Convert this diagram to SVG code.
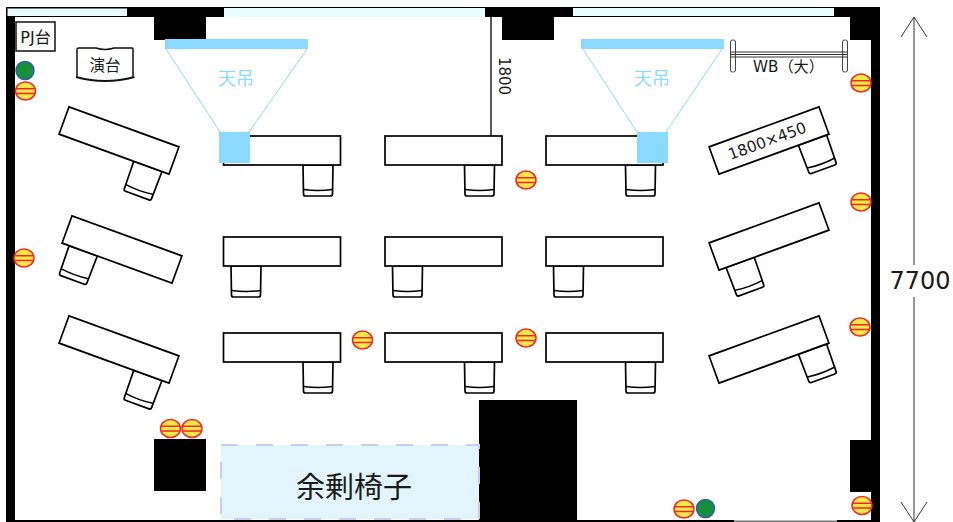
<svg xmlns="http://www.w3.org/2000/svg" width="953" height="522" viewBox="0 0 953 522">
<style>
.wall{fill:#000}
.win{fill:#e8fdfd;stroke:none}
.desk{fill:#fff;stroke:#000;stroke-width:1.7}
.chair{fill:#fff;stroke:#000;stroke-width:1.7;stroke-linejoin:round}
.t{font-family:"DejaVu Sans","Noto Sans CJK JP",sans-serif;fill:#1a1a1a;text-anchor:middle}
.pj{fill:#8cd9ff}
.beam{stroke:#8cd9ff;stroke-width:1;fill:none}
.tp{font-family:"DejaVu Sans","Noto Sans CJK JP",sans-serif;fill:#8cd9ff;text-anchor:middle;font-size:18px}
.o{fill:#f4e84a;stroke:#ee2a24;stroke-width:1.5}
.ol{stroke:#ee2a24;stroke-width:1.5;fill:none}
.g{fill:#169038;stroke:#2f5fa8;stroke-width:1.5}
</style>
<defs>
<g id="chair"><path class="chair" d="M-15,0 L-14.5,29 Q-14.5,31 -12.5,31 L12.5,31 Q14.5,31 14.5,29 L15,0 Z"/><path d="M-14.3,24.5 Q0,26.5 14.3,24.5" fill="none" stroke="#000" stroke-width="1.5"/></g>
<g id="dr"><use href="#chair" x="36" y="14.5"/><rect class="desk" x="-58.5" y="-14.5" width="117" height="29"/></g>
<g id="dr2"><use href="#chair" x="41" y="14.5"/><rect class="desk" x="-58.5" y="-14.5" width="117" height="29"/></g>
<g id="dl"><use href="#chair" x="-36" y="14.5"/><rect class="desk" x="-58.5" y="-14.5" width="117" height="29"/></g>
<g id="out"><ellipse class="o" cx="0" cy="0" rx="10" ry="9"/><path class="ol" d="M-9.5,-2.2H9.5M-9.5,2.6H9.5"/></g>
</defs>
<rect width="953" height="522" fill="#fff"/>
<g id="walls">
<rect class="wall" x="6" y="7" width="874" height="10"/>
<rect class="wall" x="6" y="7" width="9" height="515"/>
<rect class="wall" x="871" y="7" width="9" height="515"/>
<rect class="wall" x="6" y="520" width="728" height="2"/>
<rect class="wall" x="837" y="520" width="43" height="2"/>
<rect x="734" y="520.500" width="103" height="1.500" fill="#777"/>
<rect class="win" x="7.500" y="8.500" width="119.500" height="7.500"/>
<rect class="win" x="224" y="8" width="261" height="9"/>
<rect class="win" x="573" y="8" width="261" height="8"/>
<rect class="wall" x="154" y="17" width="52" height="23"/>
<rect class="wall" x="502" y="17" width="52" height="23"/>
<rect class="wall" x="850" y="17" width="21" height="23"/>
<rect class="wall" x="154" y="439" width="52" height="52"/>
<rect class="wall" x="479" y="400" width="98" height="122"/>
<rect class="wall" x="850" y="440" width="21" height="52"/>
</g>
<g id="partition"><line x1="491" y1="17" x2="491" y2="136" stroke="#222" stroke-width="1.500"/><text class="t" font-size="15" transform="translate(499,76) rotate(90)">1800</text></g>
<g id="pj-stand"><rect x="16" y="22" width="39" height="29" fill="#fff" stroke="#111" stroke-width="1.500"/><text class="t" font-size="16" x="35.500" y="43">PJ台</text></g>
<g id="lectern"><path d="M77,78 V49 Q77,48 79,48 L96,48 Q105,51 114,48 L132,48 Q133,48 133,49 V78" fill="#fff" stroke="#111" stroke-width="1.500"/><path d="M76,77 Q105,85 134.500,77" fill="none" stroke="#111" stroke-width="2"/><text class="t" font-size="15.500" x="105" y="71">演台</text></g>
<g id="desks">
<use id="desk-1" href="#dr" transform="translate(119,140.500) rotate(20)"/>
<use id="desk-2" href="#dl" transform="translate(122,249.500) rotate(20)"/>
<use id="desk-3" href="#dr" transform="translate(119,349.500) rotate(20)"/>
<use id="desk-4" href="#dr" x="282" y="150.500"/>
<use id="desk-5" href="#dr" x="443.500" y="150.500"/>
<use id="desk-6" href="#dr" x="604.500" y="150.500"/>
<use id="desk-7" href="#dl" x="282" y="251.500"/>
<use id="desk-8" href="#dl" x="443.500" y="251.500"/>
<use id="desk-9" href="#dl" x="604.500" y="251.500"/>
<use id="desk-10" href="#dr" x="282" y="347.500"/>
<use id="desk-11" href="#dr" x="443.500" y="347.500"/>
<use id="desk-12" href="#dr" x="604.500" y="347.500"/>
<use id="desk-13" href="#dr2" transform="translate(769,140.500) rotate(-20)"/>
<use id="desk-14" href="#dl" transform="translate(769,236.500) rotate(-20)"/>
<use id="desk-15" href="#dr2" transform="translate(769,349.500) rotate(-20)"/>
<text class="t" font-size="15.500" transform="translate(769,146) rotate(-20)">1800×450</text>
</g>
<g id="projector-1"><path class="beam" d="M166,49 L220,132M307,49 L249,132"/><rect class="pj" x="165" y="39" width="143" height="10"/><rect class="pj" x="219" y="132" width="31" height="31"/><text class="tp" x="236" y="85">天吊</text></g>
<g id="projector-2"><path class="beam" d="M583,49 L637,132M722,49 L666,132"/><rect class="pj" x="581" y="39" width="143" height="10"/><rect class="pj" x="637" y="132" width="31" height="31"/><text class="tp" x="652" y="85">天吊</text></g>
<g id="whiteboard"><rect x="730.500" y="40" width="5" height="32" rx="2" fill="#fff" stroke="#444"/><rect x="842.500" y="40" width="5" height="32" rx="2" fill="#fff" stroke="#444"/><path d="M730,52H847M730,54.500H847M730,57H847" stroke="#333" stroke-width="1" fill="none"/><text class="t" font-size="15.200" x="788.500" y="71.500">WB（大）</text></g>
<g id="outlets">
<use href="#out" x="25.500" y="91"/><use href="#out" x="24" y="258"/><use href="#out" x="526" y="180"/><use href="#out" x="861" y="83"/><use href="#out" x="861" y="202"/><use href="#out" x="860" y="327"/><use href="#out" x="362.500" y="340"/><use href="#out" x="526" y="338"/><use href="#out" x="170.500" y="428.500"/><use href="#out" x="192" y="428.500"/><use href="#out" x="684" y="509"/><use href="#out" x="862" y="505.500"/>
</g>
<g id="greens"><circle class="g" cx="25" cy="70.500" r="9"/><circle class="g" cx="705.500" cy="508.500" r="9"/></g>
<g id="spare-chairs"><rect x="221" y="445" width="258" height="74" fill="#e2f5fd" stroke="#c8ccf5" stroke-width="2" stroke-dasharray="17 18"/><text class="t" font-size="29" x="354" y="498">余剰椅子</text></g>
<g id="connectors"><path d="M914,17V265M914,297V522" stroke="#777" stroke-width="1.500" fill="none"/><path d="M901,37L914,17L927,37M901,502L914,522L927,502" stroke="#333" stroke-width="1" fill="none"/></g>
<text class="t" font-size="24" x="920" y="289">7700</text>
</svg>
